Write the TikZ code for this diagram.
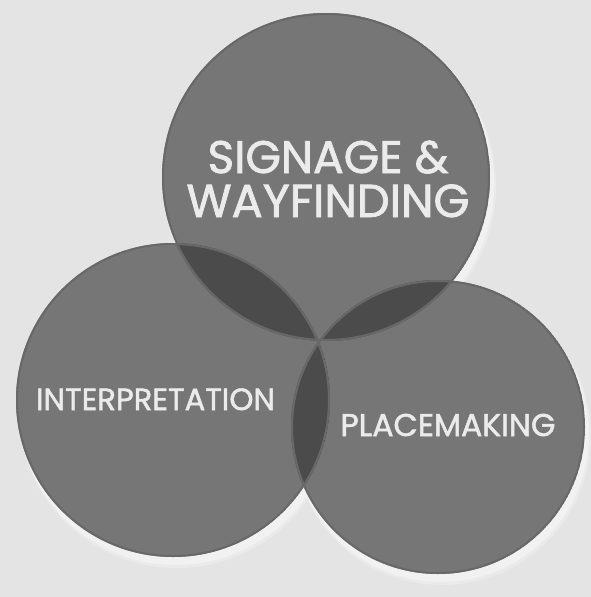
\documentclass[tikz,border=0pt]{standalone}
\usepackage{fontspec}
\setmainfont{Poppins}
\newfontfamily\lblfont{Poppins}[FakeBold=1.6]
\definecolor{bgc}{HTML}{E4E4E4}
\definecolor{haloc}{HTML}{F1F1F1}
\definecolor{haloouter}{HTML}{EAEAEA}
\definecolor{circc}{HTML}{767676}
\definecolor{rimc}{HTML}{686868}
\definecolor{ovlc}{HTML}{4B4B4B}
\definecolor{tric}{HTML}{363636}
\definecolor{txtc}{HTML}{EBEBEB}
\tikzset{
  halofill/.style={fill=haloc},
  haloblur/.style={fill=haloouter},
  circfill/.style={fill=circc},
  ovlfill/.style={fill=ovlc},
  trifill/.style={fill=tric},
  rimline/.style={draw=rimc, line width=2pt},
  label/.style={text=txtc, inner sep=0pt, anchor=base}
}
\begin{document}
\begin{tikzpicture}[x=1pt,y=-1pt]
\useasboundingbox (0,0) rectangle (591,597);
\fill[bgc] (0,0) rectangle (591,597);
\coordinate (cT) at (326,177);
\coordinate (cL) at (173,400);
\coordinate (cR) at (438,427);
% halos
\fill[haloblur] ([shift={(4,9)}]cT) circle (166pt);
\fill[haloblur] ([shift={(4,9)}]cL) circle (159pt);
\fill[haloblur] ([shift={(4,9)}]cR) circle (149pt);
\fill[halofill] ([shift={(3,7)}]cT) circle (165pt);
\fill[halofill] ([shift={(3,7)}]cL) circle (158pt);
\fill[halofill] ([shift={(3,7)}]cR) circle (148pt);
% circles
\fill[circfill] (cT) circle (164pt);
\fill[circfill] (cL) circle (157pt);
\fill[circfill] (cR) circle (147pt);
% pairwise overlaps
\begin{scope}
  \clip (cT) circle (164pt);
  \fill[ovlfill] (cL) circle (157pt);
  \fill[ovlfill] (cR) circle (147pt);
\end{scope}
\begin{scope}
  \clip (cL) circle (157pt);
  \fill[ovlfill] (cR) circle (147pt);
\end{scope}
\begin{scope}
  \clip (cT) circle (164pt);
  \clip (cL) circle (157pt);
  \fill[trifill] (cR) circle (147pt);
\end{scope}
% rims
\begin{scope}
  \clip (cT) circle (164pt);
  \draw[rimline] (cT) circle (163pt);
\end{scope}
\begin{scope}
  \clip (cL) circle (157pt);
  \draw[rimline] (cL) circle (156pt);
\end{scope}
\begin{scope}
  \clip (cR) circle (147pt);
  \draw[rimline] (cR) circle (146pt);
\end{scope}
% labels
\node[label] (sig) at (328,173) {\resizebox{241pt}{!}{\fontsize{40}{40}\lblfont SIGNAGE \&}};
\node[label] (way) at (328,217) {\resizebox{283pt}{!}{\fontsize{40}{40}\lblfont WAYFINDING}};
\node[label] (int) at (155.5,410) {\resizebox{239pt}{!}{\fontsize{30}{30}\lblfont INTERPRETATION}};
\node[label] (pla) at (448,436) {\resizebox{215pt}{!}{\fontsize{30}{30}\lblfont PLACEMAKING}};
\end{tikzpicture}
\end{document}
